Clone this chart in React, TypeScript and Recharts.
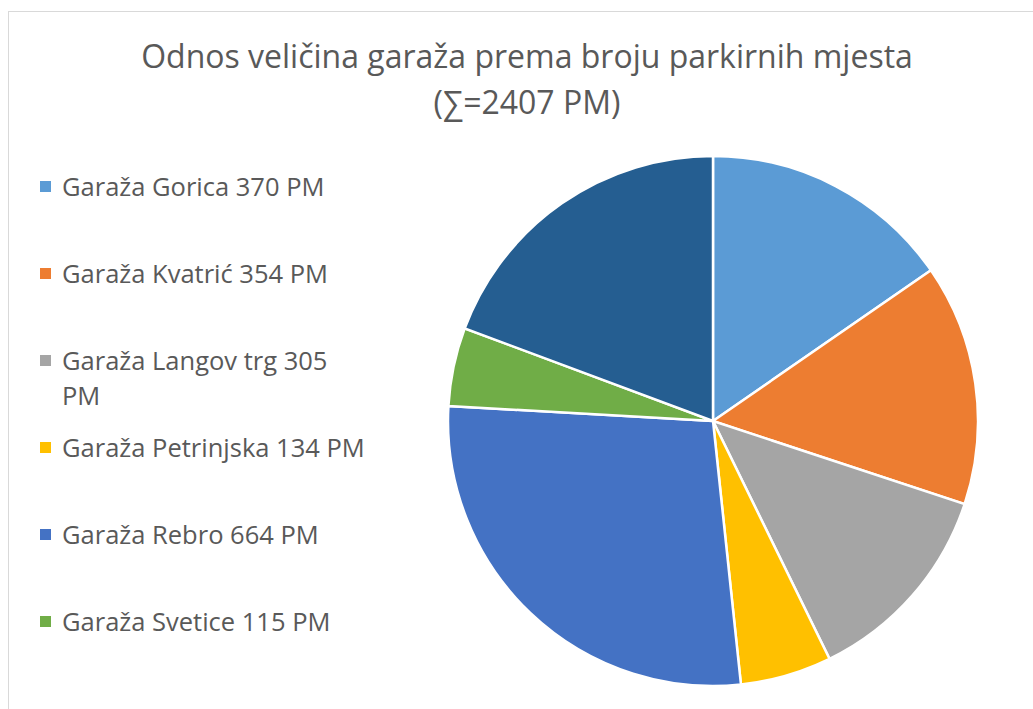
import React from 'react';
import { PieChart, Pie, Cell, Legend } from 'recharts';

const NAMES = [
  'Garaža Gorica',
  'Garaža Kvatrić',
  'Garaža Langov trg',
  'Garaža Petrinjska',
  'Garaža Rebro',
  'Garaža Svetice',
  'Garaža Tuškanac',
];
const SPOTS = [370, 354, 305, 134, 664, 115, 465];
const COLORS = ['#5B9BD5', '#ED7D31', '#A5A5A5', '#FFC000', '#4472C4', '#70AD47', '#255E91'];
const TITLE = ['Odnos veličina garaža prema broju parkirnih mjesta', '(∑=2407 PM)'];

const data = NAMES.map((n, i) => ({ name: `${n} ${SPOTS[i]} PM`, value: SPOTS[i] }));

const FONT = '"Open Sans", Lato, sans-serif';
const TEXT = '#595959';
const LEGEND_W = 360;

const renderLegend = (props: any) => {
  const payload = (props.payload || []).slice(0, 6);
  return (
    <div style={{ position: 'relative', width: LEGEND_W, paddingTop: 157 }}>
      {payload.map((entry: any, i: number) => (
        <div key={i} style={{ height: 87, display: 'flex', alignItems: 'flex-start' }}>
          <div style={{ width: 11, height: 11, background: entry.color, marginLeft: 31, marginTop: 12, flexShrink: 0 }} />
          <div style={{ marginLeft: 11, width: 308, fontSize: 25.5, lineHeight: '35px', color: TEXT, fontFamily: FONT }}>
            {entry.value}
          </div>
        </div>
      ))}
    </div>
  );
};

export default function App() {
  return (
    <div
      style={{
        position: 'fixed',
        left: 8,
        top: 11,
        width: 1040,
        height: 720,
        borderTop: '1px solid #d9d9d9',
        borderLeft: '1px solid #d9d9d9',
        background: '#fff',
        fontFamily: FONT,
      }}
    >
      <div style={{ position: 'absolute', left: 0, top: 21, width: 1036, textAlign: 'center', color: TEXT, fontSize: 32, lineHeight: '46px' }}>
        {TITLE.map((t) => (
          <div key={t}>{t}</div>
        ))}
      </div>
      <PieChart
        width={1030}
        height={700}
        margin={{ top: 0, right: 0, bottom: 0, left: 0 }}
        style={{ position: 'absolute', left: 0, top: 0 }}
      >
        <Pie
          data={data}
          dataKey="value"
          nameKey="name"
          cx={704 - LEGEND_W}
          cy={409}
          outerRadius={265}
          startAngle={90}
          endAngle={-270}
          stroke="#fff"
          strokeWidth={2.5}
          isAnimationActive={false}
        >
          {data.map((d, i) => (
            <Cell key={d.name} fill={COLORS[i]} />
          ))}
        </Pie>
        <Legend
          layout="vertical"
          align="left"
          verticalAlign="top"
          content={renderLegend}
          wrapperStyle={{ left: 0, top: 0, width: LEGEND_W }}
        />
      </PieChart>
    </div>
  );
}
